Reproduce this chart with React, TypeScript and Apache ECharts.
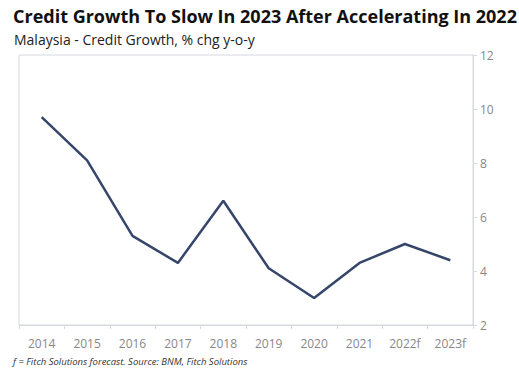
import React, { useEffect, useRef } from "react";
import * as echarts from "echarts";

const categories = ["2014", "2015", "2016", "2017", "2018", "2019", "2020", "2021", "2022f", "2023f"];
const creditGrowth = [9.7, 8.1, 5.3, 4.3, 6.6, 4.1, 3.0, 4.3, 5.0, 4.4];
const titleText = "Credit Growth To Slow In 2023 After Accelerating In 2022";
const subtitleText = "Malaysia - Credit Growth, % chg y-o-y";
const footnoteText = "f = Fitch Solutions forecast. Source: BNM, Fitch Solutions";

export default function App() {
  const ref = useRef<HTMLDivElement>(null);
  useEffect(() => {
    if (!ref.current) return;
    const chart = echarts.init(ref.current, null, { renderer: "svg" });
    chart.setOption({
      animation: false,
      backgroundColor: "#ffffff",
      title: [
        {
          text: titleText,
          left: 8,
          top: 2,
          textStyle: { fontFamily: "Open Sans", fontWeight: "bold", fontSize: 18, color: "#111111" },
        },
        {
          text: subtitleText,
          left: 9,
          top: 27,
          textStyle: { fontFamily: "Open Sans", fontWeight: "normal", fontSize: 14, color: "#222222" },
        },
        {
          text: footnoteText,
          left: 8,
          top: 351,
          textStyle: { fontFamily: "Open Sans", fontStyle: "italic", fontWeight: "normal", fontSize: 9.5, color: "#333333" },
        },
      ],
      grid: {
        left: 19,
        right: 46,
        top: 55,
        bottom: 50,
        show: true,
        borderColor: "#d5d8de",
        borderWidth: 1,
      },
      xAxis: {
        type: "category",
        data: categories,
        boundaryGap: true,
        axisLine: { show: true, lineStyle: { color: "#d5d8de" } },
        axisTick: { show: true, length: 4, inside: false, lineStyle: { color: "#d5d8de" } },
        axisLabel: { color: "#888888", fontFamily: "Open Sans", fontSize: 12, margin: 12, interval: 0 },
      },
      yAxis: {
        type: "value",
        position: "right",
        min: 2,
        max: 12,
        interval: 2,
        splitLine: { show: false },
        axisLine: { show: true, lineStyle: { color: "#d5d8de" } },
        axisTick: { show: true, length: 4, lineStyle: { color: "#d5d8de" } },
        axisLabel: { color: "#888888", fontFamily: "Open Sans", fontSize: 12, margin: 7 },
      },
      series: [
        {
          type: "line",
          data: creditGrowth,
          symbol: "none",
          lineStyle: { color: "#35466a", width: 2.5 },
        },
      ],
    });
    return () => chart.dispose();
  }, []);
  return <div ref={ref} style={{ position: "absolute", left: 0, top: 0, width: 519, height: 375 }} />;
}
